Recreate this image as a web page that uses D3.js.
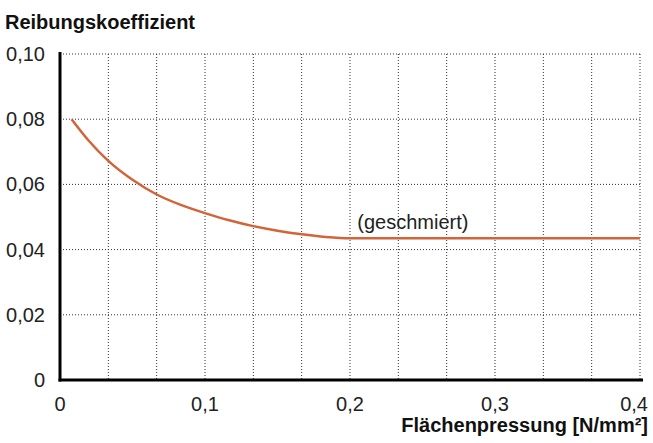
<!DOCTYPE html>
<html><head><meta charset="utf-8">
<script src="https://cdn.jsdelivr.net/npm/d3@7"></script>
<style>
html,body{margin:0;padding:0;background:#fff;}
text{font-family:"Liberation Sans",Arial,Helvetica,sans-serif;}
</style></head>
<body><svg id="c" width="653" height="443"></svg>
<script>
const pressure = [0.008, 0.02, 0.0333, 0.05, 0.0667, 0.0833, 0.1, 0.1167, 0.1333, 0.15, 0.1667, 0.1833, 0.2, 0.3, 0.4];
const friction = [0.0800, 0.0733, 0.0672, 0.0614, 0.0569, 0.0537, 0.0512, 0.0490, 0.0472, 0.0458, 0.0447, 0.0439, 0.0435, 0.0435, 0.0435];
const xTicks = [0, 0.1, 0.2, 0.3, 0.4];
const xTickLabels = ["0", "0,1", "0,2", "0,3", "0,4"];
const yTicks = [0, 0.02, 0.04, 0.06, 0.08, 0.10];
const yTickLabels = ["0", "0,02", "0,04", "0,06", "0,08", "0,10"];
const xGrid = d3.range(1, 13).map(i => i * 0.4 / 12);
const yTitle = "Reibungskoeffizient";
const xTitle = "Flächenpressung [N/mm²]";
const curveLabel = "(geschmiert)";

const svg = d3.select("#c");
const x = d3.scaleLinear().domain([0, 0.4]).range([60, 640]);
const y = d3.scaleLinear().domain([0, 0.10]).range([380, 54]);

// grid
svg.append("g").selectAll("line").data(xGrid).join("line")
  .attr("x1", d => x(d)).attr("x2", d => x(d)).attr("y1", y(0.10)).attr("y2", y(0))
  .attr("stroke", "#333").attr("stroke-width", 1).attr("stroke-dasharray", "1,2");
svg.append("g").selectAll("line").data(yTicks.filter(d => d > 0)).join("line")
  .attr("x1", x(0)).attr("x2", x(0.4)).attr("y1", d => y(d)).attr("y2", d => y(d))
  .attr("stroke", "#333").attr("stroke-width", 1).attr("stroke-dasharray", "1,2");

// axes lines
svg.append("line").attr("x1", x(0)).attr("x2", x(0)).attr("y1", y(0.10) - 2).attr("y2", y(0) + 1.5)
  .attr("stroke", "#000").attr("stroke-width", 3);
svg.append("line").attr("x1", x(0) - 1.5).attr("x2", x(0.4) + 3).attr("y1", y(0)).attr("y2", y(0))
  .attr("stroke", "#000").attr("stroke-width", 3);

// tick labels
svg.append("g").selectAll("text").data(yTicks).join("text")
  .attr("x", 45).attr("y", d => y(d) + 7).attr("text-anchor", "end")
  .attr("font-size", 20).attr("fill", "#222")
  .text((d, i) => yTickLabels[i]);
svg.append("g").selectAll("text").data(xTicks).join("text")
  .attr("x", (d, i) => i === xTicks.length - 1 ? x(d) + 8 : x(d))
  .attr("y", 411)
  .attr("text-anchor", (d, i) => i === xTicks.length - 1 ? "end" : "middle")
  .attr("font-size", 20).attr("fill", "#222")
  .text((d, i) => xTickLabels[i]);

// titles
svg.append("text").attr("x", 5).attr("y", 29).attr("font-size", 20).attr("font-weight", "bold")
  .attr("fill", "#111").text(yTitle);
svg.append("text").attr("x", 648).attr("y", 432).attr("text-anchor", "end").attr("font-size", 20)
  .attr("font-weight", "bold").attr("fill", "#111").text(xTitle);

// curve
const line = d3.line().x(d => x(d[0])).y(d => y(d[1])).curve(d3.curveMonotoneX);
svg.append("path").datum(pressure.map((p, i) => [p, friction[i]]))
  .attr("d", line).attr("fill", "none").attr("stroke", "#d2643a").attr("stroke-width", 2.5);

svg.append("text").attr("x", x(0.205)).attr("y", 229).attr("font-size", 20).attr("fill", "#222")
  .text(curveLabel);
</script></body></html>
